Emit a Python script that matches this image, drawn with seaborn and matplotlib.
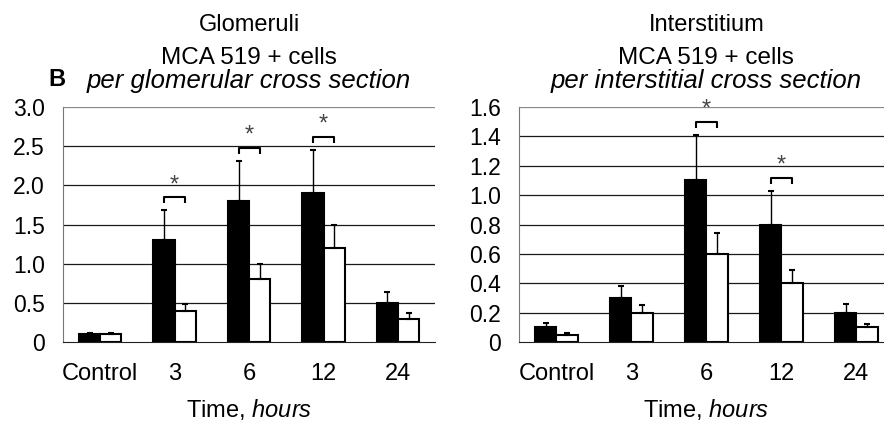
import numpy as np
import pandas as pd
import matplotlib
matplotlib.use("Agg")
import matplotlib.pyplot as plt
import seaborn as sns

categories = ["Control", "3", "6", "12", "24"]
groups = ["filled", "open"]

glom_filled = [0.1, 1.3, 1.8, 1.9, 0.5]
glom_filled_err = [0.02, 0.38, 0.51, 0.55, 0.14]
glom_open = [0.1, 0.4, 0.8, 1.2, 0.3]
glom_open_err = [0.01, 0.09, 0.19, 0.29, 0.07]
glom_sig = ["3", "6", "12"]

inter_filled = [0.1, 0.3, 1.1, 0.8, 0.2]
inter_filled_err = [0.03, 0.08, 0.31, 0.23, 0.06]
inter_open = [0.05, 0.2, 0.6, 0.4, 0.1]
inter_open_err = [0.01, 0.05, 0.14, 0.09, 0.02]
inter_sig = ["6", "12"]

sns.set_theme(style="white")
plt.rcParams["font.family"] = ["Liberation Sans", "DejaVu Sans"]
plt.rcParams["text.color"] = "black"
plt.rcParams["mathtext.fontset"] = "custom"
plt.rcParams["mathtext.rm"] = "Liberation Sans"
plt.rcParams["mathtext.it"] = "Liberation Sans:italic"


def make_df(filled, opened):
    return pd.DataFrame({
        "time": categories * 2,
        "group": [groups[0]] * len(categories) + [groups[1]] * len(categories),
        "value": list(filled) + list(opened),
    })


def draw_panel(ax, filled, filled_err, opened, opened_err, ymax, yticks, ylabels, sig):
    df = make_df(filled, opened)
    sns.barplot(data=df, x="time", y="value", hue="group", order=categories,
                hue_order=groups, palette=["black", "white"], edgecolor="black",
                linewidth=1.5, width=0.57, errorbar=None, legend=False, ax=ax)

    # bar centres come from the patches seaborn drew (filled first, then open)
    bars = [p for p in ax.patches if p.get_height() > 0][:2 * len(categories)]
    xs = np.array([b.get_x() + b.get_width() / 2 for b in bars])
    vals = np.array(list(filled) + list(opened))
    errs = np.array(list(filled_err) + list(opened_err))
    ax.errorbar(xs, vals, yerr=[np.zeros_like(errs), errs], fmt="none",
                ecolor="black", elinewidth=1.0, capsize=2.5, capthick=1.5, zorder=3)

    n = len(categories)
    for c in sig:
        i = categories.index(c)
        x0, x1 = xs[i], xs[i + n]
        top = max(vals[i] + errs[i], vals[i + n] + errs[i + n]) + 0.055 * ymax
        ax.plot([x0, x0, x1, x1], [top - 0.025 * ymax, top, top, top - 0.025 * ymax],
                color="black", lw=1.5, solid_capstyle="butt", clip_on=False)
        ax.text((x0 + x1) / 2, top + 0.005 * ymax, "*", ha="center", va="bottom",
                fontsize=17, color="#444444")

    ax.set_ylim(0, ymax)
    ax.set_xlim(-0.5, n - 0.5)
    ax.set_yticks(yticks)
    ax.set_yticklabels(ylabels, fontsize=16.5)
    for y in yticks[1:-1]:
        ax.axhline(y, color="#1a1a1a", lw=0.9, zorder=0)
    ax.axhline(yticks[-1], color="#888888", lw=0.9, zorder=0)

    ax.set_xticks(range(n))
    ax.set_xticklabels(categories, fontsize=17)
    ax.set_xticks(np.arange(-0.5, n, 1.0), minor=True)
    ax.tick_params(axis="x", which="major", length=0, pad=15, labelcolor="black")
    ax.tick_params(axis="x", which="minor", length=4, width=0.8, color="#333333", direction="out")
    ax.tick_params(axis="y", length=3, width=0.8, color="#666666", direction="out", pad=10,
                   labelcolor="black")
    ax.set_xlabel("")
    ax.set_ylabel("")
    sns.despine(ax=ax, top=True, right=True)
    ax.spines["left"].set_color("#777777")
    ax.spines["left"].set_linewidth(0.8)
    ax.spines["bottom"].set_color("#222222")
    ax.spines["bottom"].set_linewidth(0.8)


fig = plt.figure(figsize=(8.84, 4.32), dpi=100)
ax1 = fig.add_axes([0.0713, 0.2083, 0.421, 0.544])
ax2 = fig.add_axes([0.587, 0.2083, 0.424, 0.544])

draw_panel(ax1, glom_filled, glom_filled_err, glom_open, glom_open_err, 3.0,
           [0, 0.5, 1.0, 1.5, 2.0, 2.5, 3.0],
           ["0", "0.5", "1.0", "1.5", "2.0", "2.5", "3.0"], glom_sig)
draw_panel(ax2, inter_filled, inter_filled_err, inter_open, inter_open_err, 1.6,
           [0, 0.2, 0.4, 0.6, 0.8, 1.0, 1.2, 1.4, 1.6],
           ["0", "0.2", "0.4", "0.6", "0.8", "1.0", "1.2", "1.4", "1.6"], inter_sig)

for ax, title, sub in [(ax1, "Glomeruli", "per glomerular cross section"),
                       (ax2, "Interstitium", "per interstitial cross section")]:
    pos = ax.get_position()
    cx = (pos.x0 + pos.x1) / 2
    fig.text(cx, 1 - 25 / 432, title, ha="center", va="center", fontsize=17)
    fig.text(cx, 1 - 58 / 432, "MCA 519 + cells", ha="center", va="center", fontsize=17.5)
    fig.text(cx, 1 - 81 / 432, sub, ha="center", va="center", fontsize=18.5, style="italic")
    fig.text(cx, 1 - 409 / 432, "Time, $\\it{hours}$", ha="center", va="center", fontsize=17)

fig.text(57 / 884, 1 - 79 / 432, "B", ha="center", va="center", fontsize=17, fontweight="bold")

fig.savefig("out.png", dpi=100)
